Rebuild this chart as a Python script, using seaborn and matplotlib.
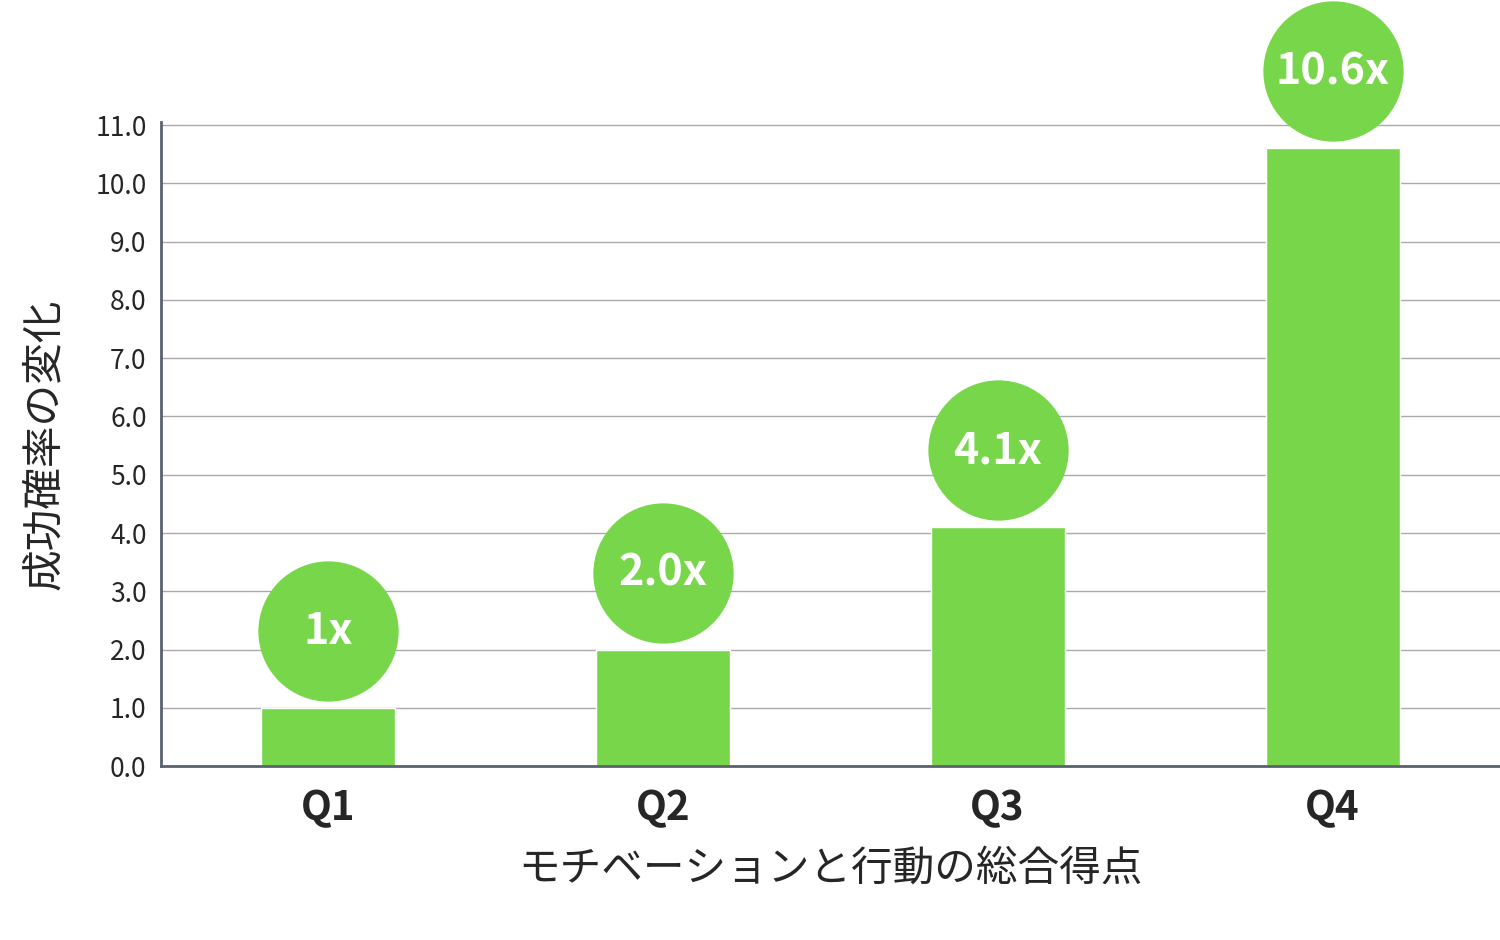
import matplotlib
matplotlib.use("Agg")
import matplotlib.pyplot as plt
import matplotlib.transforms as mtransforms
import seaborn as sns
import pandas as pd

categories = ["Q1", "Q2", "Q3", "Q4"]
values = [1.0, 2.0, 4.1, 10.6]
labels = ["1x", "2.0x", "4.1x", "10.6x"]
yticks = [0.0, 1.0, 2.0, 3.0, 4.0, 5.0, 6.0, 7.0, 8.0, 9.0, 10.0, 11.0]

sns.set_theme(style="white")
plt.rcParams['font.family'] = ['Noto Sans CJK JP', 'DejaVu Sans']
green = "#78D64B"

fig = plt.figure(figsize=(15, 9.4), dpi=100)
ax = fig.add_axes([0.107, 0.185, 0.893, 0.685])
df = pd.DataFrame({"cat": categories, "val": values})
sns.barplot(data=df, x="cat", y="val", color=green, saturation=1, width=0.4, ax=ax)
ax.set_xlim(-0.5, 3.5)
ax.set_ylim(0, 11.05)
ax.set_yticks(yticks)
ax.set_yticklabels([f"{v:.1f}" for v in yticks], fontsize=19)
ax.yaxis.grid(True, color="#aaaaaa", linewidth=1)
ax.set_axisbelow(True)
for s in ["top", "right"]:
    ax.spines[s].set_visible(False)
for s in ["left", "bottom"]:
    ax.spines[s].set_color("#5a6270")
    ax.spines[s].set_linewidth(2)
ax.tick_params(axis="x", labelsize=29, pad=10)
ax.tick_params(axis="y", pad=4)
for t in ax.get_xticklabels():
    t.set_fontweight("bold")
ax.set_xlabel("モチベーションと行動の総合得点", fontsize=30, labelpad=14)
ax.set_ylabel("成功確率の変化", fontsize=30, labelpad=22)

off = mtransforms.ScaledTranslation(0, 77 / 100, fig.dpi_scale_trans)
for i, (v, lab) in enumerate(zip(values, labels)):
    tr = ax.transData + off
    ax.scatter([i], [v], s=101 ** 2, color=green, transform=tr, clip_on=False, zorder=5, linewidths=0)
    ax.text(i, v, lab, transform=tr, ha="center", va="center", color="white",
            fontsize=31, fontweight="bold", zorder=6, clip_on=False)

fig.savefig("out.png", dpi=100)
